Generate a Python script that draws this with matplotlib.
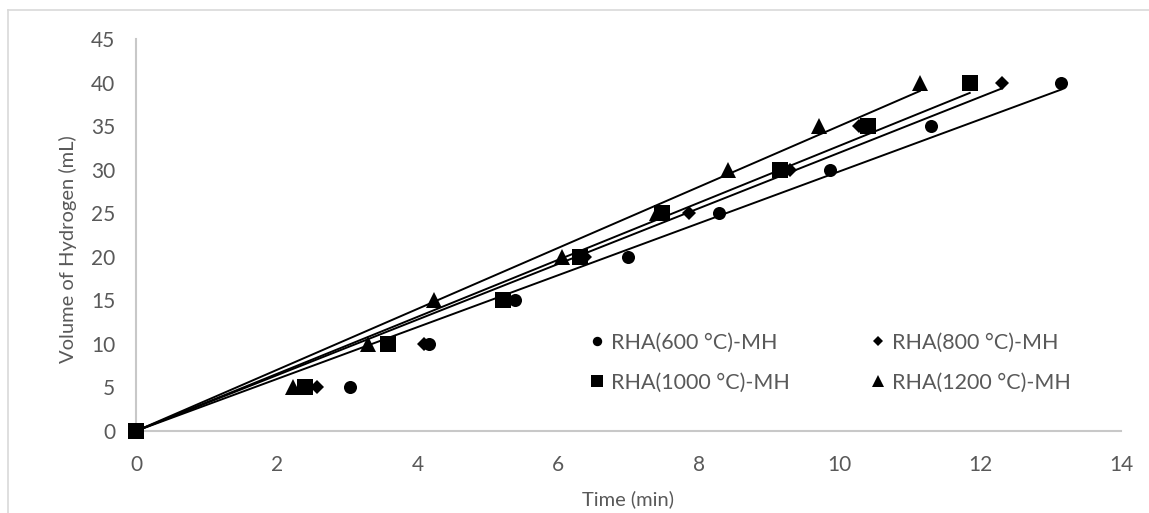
import matplotlib
matplotlib.use("Agg")
import matplotlib.pyplot as plt
import numpy as np
from matplotlib.lines import Line2D

volume = [0, 5, 10, 15, 20, 25, 30, 35, 40]
t600 = [0, 3.04, 4.17, 5.38, 6.99, 8.28, 9.87, 11.30, 13.15]
t800 = [0, 2.57, 4.09, 5.25, 6.38, 7.86, 9.29, 10.27, 12.31]
t1000 = [0, 2.40, 3.58, 5.21, 6.31, 7.48, 9.15, 10.40, 11.85]
t1200 = [0, 2.23, 3.30, 4.23, 6.05, 7.40, 8.42, 9.71, 11.14]

labels = ["RHA(600 °C)-MH", "RHA(800 °C)-MH", "RHA(1000 °C)-MH", "RHA(1200 °C)-MH"]
series = [t600, t800, t1000, t1200]
markers = ["o", "D", "s", "^"]
sizes = [9.4, 6.8, 12.2, 11.5]
zorders = [3, 4, 6, 5]

plt.rcParams["font.family"] = ["Lato", "DejaVu Sans"]
grey = "#595959"

W, H = 1149, 513
fig = plt.figure(figsize=(W / 100, H / 100), dpi=100)
ax = fig.add_axes([136 / W, 1 - 431 / H, (1121 - 136) / W, (431 - 39) / H])

handles = []
for t, lab, m, s, z in zip(series, labels, markers, sizes, zorders):
    x = np.array(t)
    y = np.array(volume)
    # linear trendline forced through the origin
    slope = (x * y).sum() / (x * x).sum()
    xs = np.array([0, x.max()])
    ax.plot(xs, slope * xs, color="black", lw=1.4, zorder=2)
    h, = ax.plot(x, y, linestyle="none", marker=m, markersize=s, color="black",
                 markeredgewidth=0, label=lab, zorder=z, clip_on=False)
    handles.append(h)

ax.set_xlim(0, 14)
ax.set_ylim(0, 45)
ax.set_xticks(range(0, 15, 2))
ax.set_yticks(range(0, 46, 5))
ax.tick_params(length=0, labelsize=15, labelcolor=grey)
ax.tick_params(axis="x", pad=17)
ax.tick_params(axis="y", pad=15)
for side in ["top", "right"]:
    ax.spines[side].set_visible(False)
for side in ["left", "bottom"]:
    ax.spines[side].set_color("#c8c8c8")
    ax.spines[side].set_linewidth(1.5)

ax.set_xlabel("Time (min)", fontsize=14.5, color=grey, va="center")
ax.set_ylabel("Volume of Hydrogen (mL)", fontsize=14.5, color=grey, va="center")
ax.xaxis.set_label_coords(0.5, -0.175)
ax.yaxis.set_label_coords(-0.069, 0.465)

order = [0, 2, 1, 3]
leg = ax.legend([handles[i] for i in order], [labels[i] for i in order], ncol=2,
                loc="upper left", bbox_to_anchor=(589 / W, 1 - 333 / H),
                bbox_transform=fig.transFigure, frameon=False, fontsize=15.5,
                handlelength=0.7, handletextpad=0.3, columnspacing=3.75,
                labelspacing=0.9, markerscale=0.72, borderaxespad=0,
                borderpad=0)
for txt in leg.get_texts():
    txt.set_color(grey)

# outer chart border
fig.add_artist(Line2D([8 / W, 8 / W], [0, 1 - 10 / H], transform=fig.transFigure,
                      color="#d9d9d9", lw=1.2))
fig.add_artist(Line2D([8 / W, 1], [1 - 10 / H, 1 - 10 / H], transform=fig.transFigure,
                      color="#d9d9d9", lw=1.2))

fig.savefig("out.png", dpi=100)
